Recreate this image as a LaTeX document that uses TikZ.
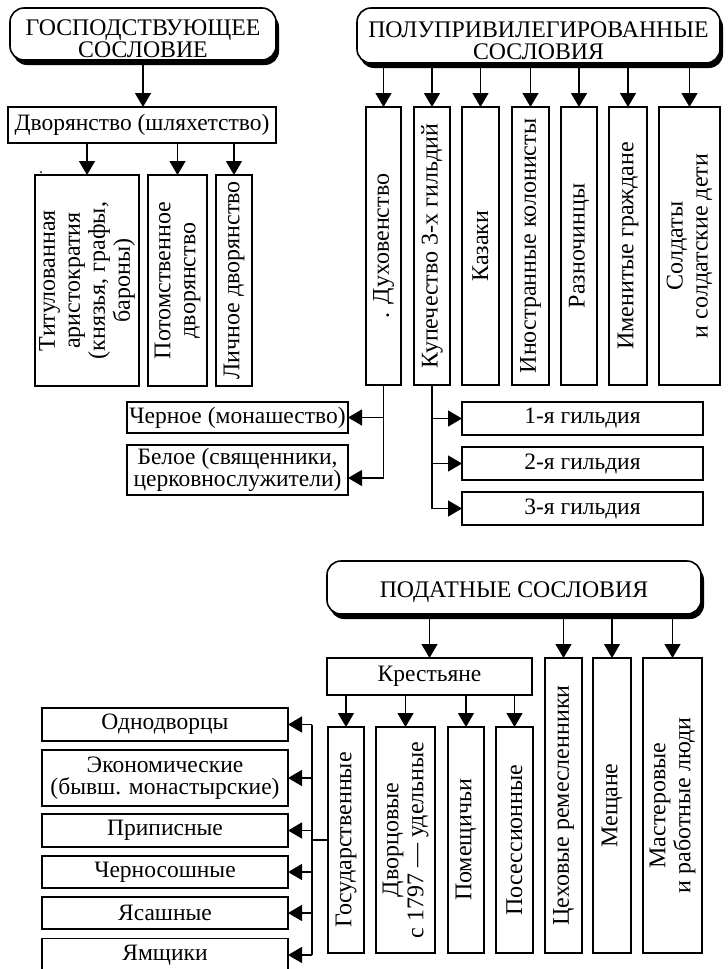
\documentclass[tikz,border=0pt]{standalone}
\usepackage{fontspec}
\setmainfont{Liberation Serif}
\usetikzlibrary{arrows.meta,shadows,calc}
\newcommand{\bodyfont}{\fontsize{23.5}{22}\selectfont}
\newcommand{\vfont}{\fontsize{24}{25}\selectfont}
\newcommand{\headfont}{\fontsize{23.8}{22}\selectfont}
\tikzset{
  box/.style={draw, line width=1.3pt, fill=white, inner sep=0pt, outer sep=0pt},
  head/.style={draw, line width=1.6pt, fill=white, rounded corners=14pt, inner sep=0pt, outer sep=0pt,
    drop shadow={shadow xshift=3pt, shadow yshift=-5pt, opacity=1, fill=black}},
  headtext/.style={align=center, font=\headfont, inner sep=0pt, yshift=-5pt},
  htext/.style={font=\bodyfont, align=center},
  vtext/.style={rotate=90, font=\vfont, align=center, inner sep=0pt},
  arr/.style={line width=1.3pt, -{Triangle[width=16pt,length=14pt]}},
  conn/.style={line width=1.3pt},
}
\begin{document}
\begin{tikzpicture}[x=1pt,y=-1pt]
\clip (0,0) rectangle (728,969);
\fill[white] (0,0) rectangle (728,969);

% ---------- headers
\node[head, minimum width=266pt, minimum height=52pt] (h1) at (143,34) {};
\node[head, minimum width=363pt, minimum height=55pt] (h2) at (538.5,35.5) {};
\node[head, minimum width=374pt, minimum height=53pt] (h3) at (514,587.5) {};
\node[headtext] (h1t) at (h1.center) {ГОСПОДСТВУЮЩЕЕ\\СОСЛОВИЕ};
\node[headtext] (h2t) at (h2.center) {ПОЛУПРИВИЛЕГИРОВАННЫЕ\\СОСЛОВИЯ};
\node[headtext] (h3t) at (h3.center) {ПОДАТНЫЕ СОСЛОВИЯ};

% ---------- top left
\node[box, htext, minimum width=268pt, minimum height=36pt] (dvor) at (142,125) {Дворянство (шляхетство)};
\node[box, minimum width=104pt, minimum height=211pt] (t1) at (87,280.5) {};
\node[box, minimum width=59pt, minimum height=211pt] (t2) at (177.5,280.5) {};
\node[box, minimum width=36pt, minimum height=211pt] (t3) at (234,280.5) {};
\node[vtext] (t1t) at (t1.center) {Титулованная\\аристократия\\(князья, графы,\\бароны)};
\node[vtext] (t2t) at (t2.center) {Потомственное\\дворянство};
\node[vtext] (t3t) at (t3.center) {Личное дворянство};
\fill (41,172) circle (1pt);

\draw[arr] (h1.south) -- (h1.south |- dvor.north);
\foreach \b in {t1,t2,t3} \draw[arr] (dvor.south -| \b.north) -- (\b.north);

% ---------- top right
\foreach \n/\cx/\w in {p1/383.5/35, p2/432/36, p3/480.5/37, p4/530.5/37, p5/579/36, p6/628/38, p7/689.5/61}
  \node[box, minimum width=\w pt, minimum height=278pt] (\n) at (\cx,246) {};
\node[vtext] (p1t) at (p1.center) {.\hspace{8pt}Духовенство};
\node[vtext] (p2t) at (p2.center) {Купечество 3-х гильдий};
\node[vtext] (p3t) at (p3.center) {Казаки};
\node[vtext] (p4t) at (p4.center) {Иностранные колонисты};
\node[vtext] (p5t) at (p5.center) {Разночинцы};
\node[vtext] (p6t) at (p6.center) {Именитые граждане};
\node[vtext] (p7t) at (p7.center) {Солдаты\\и солдатские дети};
\foreach \b in {p1,p2,p3,p4,p5,p6,p7} \draw[arr] (h2.south -| \b.north) -- (\b.north);

\node[box, htext, minimum width=221pt, minimum height=31pt] (ch) at (237.5,417.5) {Черное (монашество)};
\node[box, htext, minimum width=221pt, minimum height=50pt] (bel) at (237.5,470) {Белое (священники,\\церковнослужители)};
\coordinate (dj) at (383.5,478);
\draw[conn] (p1.south) -- (dj);
\draw[arr] (p1.south |- ch.east) -- (ch.east);
\draw[arr] (dj) -- (dj -| bel.east);

\node[box, htext, minimum width=241pt, minimum height=33pt] (g1) at (582.5,418.5) {1-я гильдия};
\node[box, htext, minimum width=241pt, minimum height=33pt] (g2) at (582.5,463.5) {2-я гильдия};
\node[box, htext, minimum width=241pt, minimum height=33pt] (g3) at (582.5,508.5) {3-я гильдия};
\draw[conn] (p2.south) -- (p2.south |- g3.west);
\foreach \g in {g1,g2,g3} \draw[arr] (p2.south |- \g.west) -- (\g.west);

% ---------- bottom
\node[box, htext, minimum width=205pt, minimum height=37pt] (kr) at (429.5,676.5) {Крестьяне};
\node[box, minimum width=37pt, minimum height=295pt] (ceh) at (563.5,805.5) {};
\node[box, minimum width=38pt, minimum height=295pt] (mesh) at (612,805.5) {};
\node[box, minimum width=59pt, minimum height=295pt] (mast) at (672.5,805.5) {};
\node[vtext] (ceht) at (ceh.center) {Цеховые ремесленники};
\node[vtext] (mesht) at (mesh.center) {Мещане};
\node[vtext] (mastt) at (mast.center) {Мастеровые\\и работные люди};
\foreach \b in {kr,ceh,mesh,mast} \draw[arr] (h3.south -| \b.north) -- (\b.north);

\node[box, minimum width=36pt, minimum height=226pt] (k1) at (346,840) {};
\node[box, minimum width=59pt, minimum height=226pt] (k2) at (405.5,840) {};
\node[box, minimum width=36pt, minimum height=226pt] (k3) at (466,840) {};
\node[box, minimum width=37pt, minimum height=226pt] (k4) at (514.5,840) {};
\node[vtext] (k1t) at (k1.center) {Государственные};
\node[vtext] (k2t) at (k2.center) {Дворцовые\\с 1797 — удельные};
\node[vtext] (k3t) at (k3.center) {Помещичьи};
\node[vtext] (k4t) at (k4.center) {Посессионные};
\foreach \b in {k1,k2,k3,k4} \draw[arr] (kr.south -| \b.north) -- (\b.north);

\node[box, htext, minimum width=246pt, minimum height=33pt] (l1) at (165,724.5) {Однодворцы};
\node[box, htext, minimum width=246pt, minimum height=56pt] (l2) at (165,778) {Экономические\\(бывш. монастырские)};
\node[box, htext, minimum width=246pt, minimum height=33pt] (l3) at (165,830.5) {Приписные};
\node[box, htext, minimum width=246pt, minimum height=32pt] (l4) at (165,872) {Черносошные};
\node[box, htext, minimum width=246pt, minimum height=32pt] (l5) at (165,913) {Ясашные};
\node[box, htext, minimum width=246pt, minimum height=33pt] (l6) at (165,955) {Ямщики};
\coordinate (lj) at (312,840);
\draw[conn] (k1.west) -- (lj);
\draw[conn] (lj |- l1.east) -- (lj |- l6.east);
\foreach \l in {l1,l2,l3,l4,l5,l6} \draw[arr] (lj |- \l.east) -- (\l.east);
\end{tikzpicture}
\end{document}
